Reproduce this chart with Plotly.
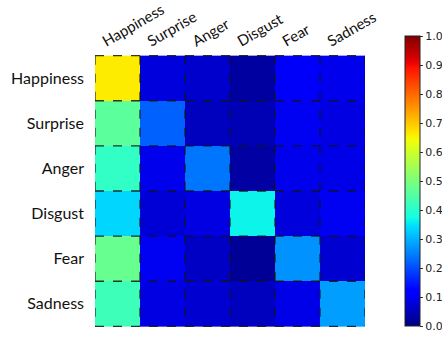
import numpy as np
import plotly.graph_objects as go

emotions = ["Happiness", "Surprise", "Anger", "Disgust", "Fear", "Sadness"]

# rows: true emotion, columns: predicted emotion
conf = [
    [0.66, 0.08, 0.066, 0.028, 0.106, 0.094],
    [0.46, 0.22, 0.055, 0.045, 0.100, 0.085],
    [0.41, 0.095, 0.24, 0.030, 0.095, 0.090],
    [0.335, 0.075, 0.085, 0.365, 0.080, 0.100],
    [0.475, 0.100, 0.060, 0.020, 0.270, 0.070],
    [0.425, 0.085, 0.070, 0.055, 0.090, 0.280],
]
cbar_ticks = [0.0, 0.1, 0.2, 0.3, 0.4, 0.5, 0.6, 0.7, 0.8, 0.9, 1.0]


def jet_scale(n=65):
    # matplotlib "jet" segment data
    red = [(0, 0), (0.35, 0), (0.66, 1), (0.89, 1), (1, 0.5)]
    green = [(0, 0), (0.125, 0), (0.375, 1), (0.64, 1), (0.91, 0), (1, 0)]
    blue = [(0, 0.5), (0.11, 1), (0.34, 1), (0.65, 0), (1, 0)]
    ch = lambda seg, t: np.interp(t, [p[0] for p in seg], [p[1] for p in seg])
    out = []
    for t in np.linspace(0, 1, n):
        r, g, b = (int(round(255 * ch(s, t))) for s in (red, green, blue))
        out.append([float(t), f"rgb({r},{g},{b})"])
    return out


fig = go.Figure(
    go.Heatmap(
        z=conf,
        x=emotions,
        y=emotions,
        colorscale=jet_scale(),
        zmin=0,
        zmax=1,
        colorbar=dict(
            x=1.148,
            xanchor="left",
            xpad=0,
            y=0.535,
            yanchor="middle",
            ypad=0,
            len=290,
            lenmode="pixels",
            thickness=15,
            outlinecolor="#222",
            outlinewidth=1,
            tickvals=cbar_ticks,
            ticktext=[f"{v:.1f}" for v in cbar_ticks],
            ticks="outside",
            ticklen=3,
            tickcolor="#333",
            tickfont=dict(family="DejaVu Sans", size=11, color="#222"),
        ),
    )
)

# dashed cell borders
n = len(emotions)
for k in range(n + 1):
    pos = k - 0.5
    fig.add_shape(type="line", x0=pos, x1=pos, y0=-0.5, y1=n - 0.5,
                  line=dict(color="rgba(20,20,20,0.85)", width=1.3, dash="dash"))
    fig.add_shape(type="line", y0=pos, y1=pos, x0=-0.5, x1=n - 0.5,
                  line=dict(color="rgba(20,20,20,0.85)", width=1.3, dash="dash"))

fig.update_xaxes(
    side="top",
    tickangle=-30,
    showgrid=False,
    zeroline=False,
    ticks="",
    ticklabelshift=-15,
    ticklabelstandoff=3,
    range=[-0.5, n - 0.5],
    tickfont=dict(family="Lato", size=15, color="#111"),
)
fig.update_yaxes(
    autorange="reversed",
    showgrid=False,
    zeroline=False,
    ticks="",
    ticklabelstandoff=10,
    tickfont=dict(family="Lato", size=16, color="#111"),
)

fig.update_layout(
    width=442,
    height=344,
    margin=dict(l=95, r=77, t=55, b=17, autoexpand=False),
    paper_bgcolor="white",
    plot_bgcolor="white",
)

fig.write_html("out.html")
